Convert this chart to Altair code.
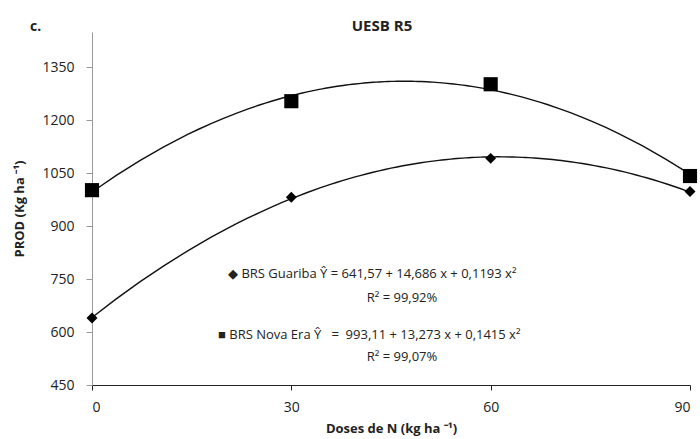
import altair as alt
import pandas as pd

# Nitrogen doses (kg/ha) and grain yield (kg/ha) for two cultivars
doses = [0, 30, 60, 90]
guariba = [640, 982, 1092, 998]
nova_era = [1002, 1254, 1302, 1042]
cultivars = ["BRS Guariba", "BRS Nova Era"]

NB = "\u00a0"
eq_guariba = "\u25c6 BRS Guariba \u0176 = 641,57 + 14,686 x + 0,1193 x\u00b2"
r2_guariba = "R\u00b2 = 99,92%"
eq_nova = f"\u25a0 BRS Nova Era \u0176 {NB} = {NB}993,11 + 13,273 x + 0,1415 x\u00b2"
r2_nova = "R\u00b2 = 99,07%"

df = pd.DataFrame(
    {
        "dose": doses * 2,
        "prod": guariba + nova_era,
        "cultivar": [cultivars[0]] * len(doses) + [cultivars[1]] * len(doses),
    }
)

FONT = "Open Sans"
W, H = 598, 353

x = alt.X(
    "dose:Q",
    scale=alt.Scale(domain=[0, 90], nice=False),
    axis=alt.Axis(
        values=doses,
        format="d",
        title="Doses de N (kg ha \u207b\u00b9)",
        grid=False,
        domainColor="#222222",
        tickColor="#222222",
        tickSize=5,
        labelFontSize=14,
        labelFont=FONT,
        labelColor="#222222",
        labelPadding=10,
        titleFont=FONT,
        titleFontSize=13,
        titleFontWeight="bold",
        titleColor="#222222",
        titlePadding=8,
    ),
)
y = alt.Y(
    "prod:Q",
    scale=alt.Scale(domain=[450, 1450], nice=False),
    axis=alt.Axis(
        values=[450, 600, 750, 900, 1050, 1200, 1350],
        format="d",
        title="PROD (Kg ha \u207b\u00b9)",
        grid=False,
        domainColor="#999999",
        tickColor="#999999",
        tickSize=6,
        labelFontSize=14,
        labelFont=FONT,
        labelColor="#222222",
        labelPadding=12,
        titleFont=FONT,
        titleFontSize=13,
        titleFontWeight="bold",
        titleColor="#222222",
        titleX=-66,
        titleY=H / 2,
        titleAngle=-90,
    ),
)

base = alt.Chart(df)

fits = (
    base.transform_regression(
        "dose", "prod", groupby=["cultivar"], method="poly", order=2, extent=[0, 90]
    )
    .mark_line(color="#111111", strokeWidth=1.4)
    .encode(x=x, y=y, detail="cultivar:N")
)

points = base.mark_point(filled=True, color="black", opacity=1).encode(
    x=x,
    y=y,
    shape=alt.Shape(
        "cultivar:N",
        scale=alt.Scale(domain=cultivars, range=["diamond", "square"]),
        legend=None,
    ),
    size=alt.Size(
        "cultivar:N",
        scale=alt.Scale(domain=cultivars, range=[120, 200]),
        legend=None,
    ),
)


def label(text, px, py, size=13, weight="normal", align="left", baseline="middle"):
    return (
        alt.Chart(alt.Data(values=[{}]))
        .mark_text(
            font=FONT,
            fontSize=size,
            fontWeight=weight,
            align=align,
            baseline=baseline,
            color="#222222",
        )
        .encode(x=alt.value(px), y=alt.value(py), text=alt.value(text))
    )


annotations = [
    label("c.", -62, -1, size=14, weight="bold", baseline="alphabetic"),
    label("UESB R5", 290, -1, size=15, weight="bold", align="center", baseline="alphabetic"),
    label(eq_guariba, 136, 242),
    label(r2_guariba, 310, 266, align="center"),
    label(eq_nova, 126, 303),
    label(r2_nova, 310, 325, align="center"),
]

chart = (
    alt.layer(fits, points, *annotations)
    .properties(
        width=W,
        height=H,
        autosize=alt.AutoSizeParams(type="none"),
        padding={"left": 92, "top": 32, "right": 10, "bottom": 54},
        background="white",
    )
    .configure_view(stroke=None)
)

chart.save("out.html", embed_options={"renderer": "svg", "actions": False})
